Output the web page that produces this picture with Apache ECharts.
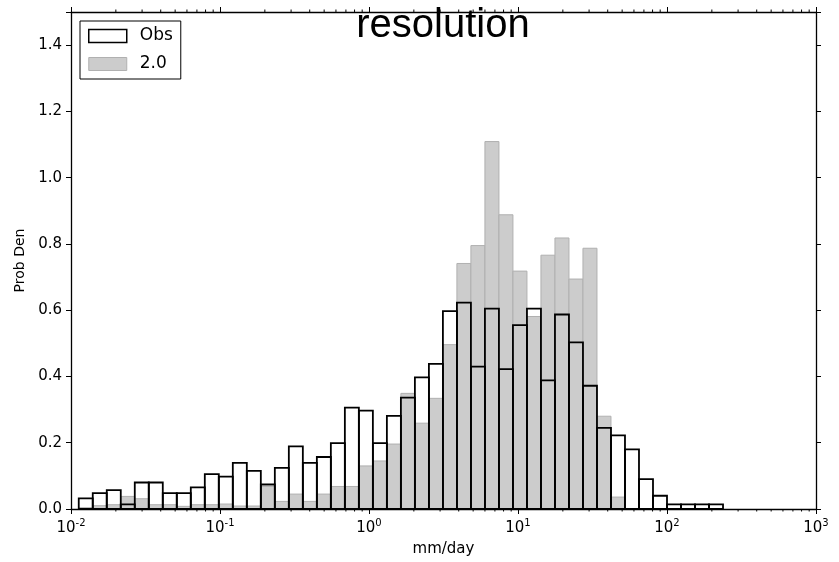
<!DOCTYPE html>
<html>
<head>
<meta charset="utf-8">
<script src="https://cdn.jsdelivr.net/npm/echarts@6/dist/echarts.min.js"></script>
<style>
html,body{margin:0;padding:0;background:#fff;}
#c{width:839px;height:562px;}
</style>
</head>
<body>
<div id="c"></div>
<script>
// Histogram bins: log-spaced, 46 bins (log10 of first edge and log10 bin width)
const binStartLog = -1.948;
const binWidthLog = 0.094;
const binCount = 46;

// Probability density, observations (hollow black bars)
const obsValues = [
  0.032, 0.048, 0.057, 0.014, 0.080, 0.080, 0.048, 0.048, 0.065, 0.105,
  0.098, 0.139, 0.115, 0.074, 0.124, 0.189, 0.139, 0.157, 0.199, 0.306,
  0.297, 0.199, 0.281, 0.336, 0.397, 0.438, 0.597, 0.623, 0.430, 0.605,
  0.422, 0.555, 0.605, 0.388, 0.587, 0.503, 0.372, 0.245, 0.222, 0.180,
  0.090, 0.040, 0.014, 0.014, 0.014, 0.014
];
// Probability density, "2.0" (grey filled bars)
const modelValues = [
  0.004, 0.010, 0.013, 0.038, 0.031, 0.013, 0.013, 0.008, 0.013, 0.013,
  0.015, 0.009, 0.009, 0.068, 0.023, 0.045, 0.023, 0.045, 0.068, 0.068,
  0.130, 0.145, 0.196, 0.349, 0.259, 0.334, 0.496, 0.741, 0.795, 1.109,
  0.888, 0.718, 0.581, 0.766, 0.818, 0.694, 0.787, 0.280, 0.036, 0,
  0, 0, 0, 0, 0, 0
];
const seriesNames = ['Obs', '2.0'];
const titleText = 'resolution';
const xTitle = 'mm/day';
const yTitle = 'Prob Den';
const xMin = 0.01, xMax = 1000;
const yMin = 0, yMax = 1.5, yStep = 0.2;
const minorMultipliers = [2, 3, 4, 5, 6, 7, 8, 9];
const minorDecades = [-2, -1, 0, 1, 2];

const edges = [];
for (let k = 0; k <= binCount; k++) edges.push(Math.pow(10, binStartLog + k * binWidthLog));
const obsData = obsValues.map((v, i) => [edges[i], edges[i + 1], v]);
const modelData = modelValues.map((v, i) => [edges[i], edges[i + 1], v]);
const minorTicks = [];
minorDecades.forEach(d => minorMultipliers.forEach(m => minorTicks.push([m * Math.pow(10, d)])));

const FONT = 'DejaVu Sans';

function barRenderer(fill, stroke, lw) {
  return function (params, api) {
    const v = api.value(2);
    if (!v) return null;
    const p0 = api.coord([api.value(0), v]);
    const p1 = api.coord([api.value(1), 0]);
    return {
      type: 'rect',
      shape: { x: p0[0], y: p0[1], width: p1[0] - p0[0], height: p1[1] - p0[1] },
      style: { fill: fill, stroke: stroke, lineWidth: lw }
    };
  };
}

function minorRenderer(params, api) {
  const v = api.value(0);
  const b = api.coord([v, yMin]);
  const t = api.coord([v, yMax]);
  return {
    type: 'group',
    children: [
      { type: 'line', shape: { x1: b[0], y1: b[1], x2: b[0], y2: b[1] + 2.5 }, style: { stroke: '#000', lineWidth: 1 } },
      { type: 'line', shape: { x1: t[0], y1: t[1], x2: t[0], y2: t[1] - 2.5 }, style: { stroke: '#000', lineWidth: 1 } }
    ]
  };
}

const chart = echarts.init(document.getElementById('c'), null, { renderer: 'canvas' });

const axisLineStyle = { color: '#000', width: 1.3 };
const tickStyle = { color: '#000', width: 1 };

chart.setOption({
  backgroundColor: '#fff',
  animation: false,
  grid: { left: 71, right: 23, top: 12, bottom: 51.5, containLabel: false },
  graphic: [{
    type: 'text', z: 100,
    x: 443, y: 26,
    style: {
      text: titleText, textAlign: 'center', textVerticalAlign: 'middle',
      fontFamily: 'Liberation Sans', fontSize: 40, fill: '#000'
    }
  }],
  legend: {
    left: 80, top: 21, orient: 'vertical',
    padding: [5, 8, 5, 8], itemGap: 8,
    itemWidth: 38, itemHeight: 13,
    borderColor: '#000', borderWidth: 1, borderRadius: 0,
    backgroundColor: '#fff',
    textStyle: { fontFamily: FONT, fontSize: 17, color: '#000', lineHeight: 20, padding: [0, 0, 0, 8] },
    data: [
      { name: seriesNames[0], icon: 'rect', itemStyle: { color: '#fff', borderColor: '#000', borderWidth: 1.5 } },
      { name: seriesNames[1], icon: 'rect', itemStyle: { color: '#cccccc', borderColor: '#b0b0b0', borderWidth: 1 } }
    ],
    selectedMode: false
  },
  xAxis: [
    {
      type: 'log', logBase: 10, min: xMin, max: xMax, position: 'bottom',
      name: xTitle, nameLocation: 'middle', nameGap: 33,
      nameTextStyle: { fontFamily: FONT, fontSize: 15, color: '#000' },
      axisLine: { show: true, onZero: false, lineStyle: axisLineStyle },
      axisTick: { show: true, inside: false, length: 5, lineStyle: tickStyle },
      splitLine: { show: false },
      axisLabel: {
        margin: 9,
        formatter: function (v) {
          const e = Math.round(Math.log10(v));
          return '{b|10}{s|' + e + '}';
        },
        rich: {
          b: { fontFamily: FONT, fontSize: 15, color: '#000', lineHeight: 15, padding: [6, 0, 0, 0] },
          s: { fontFamily: FONT, fontSize: 10, color: '#000', lineHeight: 10, verticalAlign: 'top' }
        }
      }
    },
    {
      type: 'log', logBase: 10, min: xMin, max: xMax, position: 'top',
      axisLine: { show: true, onZero: false, lineStyle: axisLineStyle },
      axisTick: { show: true, inside: false, length: 5, lineStyle: tickStyle },
      axisLabel: { show: false }, splitLine: { show: false }
    }
  ],
  yAxis: [
    {
      type: 'value', min: yMin, max: yMax, interval: yStep, position: 'left',
      name: yTitle, nameLocation: 'middle', nameGap: 42,
      nameTextStyle: { fontFamily: FONT, fontSize: 14, color: '#000' },
      axisLine: { show: true, onZero: false, lineStyle: axisLineStyle },
      axisTick: { show: true, inside: false, length: 5, lineStyle: tickStyle },
      splitLine: { show: false },
      axisLabel: {
        margin: 9, fontFamily: FONT, fontSize: 15, color: '#000',
        formatter: v => (v > 1.45 ? '' : v.toFixed(1))
      }
    },
    {
      type: 'value', min: yMin, max: yMax, interval: yStep, position: 'right',
      axisLine: { show: true, onZero: false, lineStyle: axisLineStyle },
      axisTick: { show: true, inside: false, length: 5, lineStyle: tickStyle },
      axisLabel: { show: false }, splitLine: { show: false }
    }
  ],
  series: [
    {
      name: seriesNames[1], type: 'custom', xAxisIndex: 0, yAxisIndex: 0,
      renderItem: barRenderer('#cccccc', '#b0b0b0', 1),
      encode: { x: [0, 1], y: 2 }, data: modelData, z: 2, silent: true
    },
    {
      name: seriesNames[0], type: 'custom', xAxisIndex: 0, yAxisIndex: 0,
      renderItem: barRenderer('none', '#000', 1.8),
      encode: { x: [0, 1], y: 2 }, data: obsData, z: 3, silent: true
    },
    {
      type: 'custom', xAxisIndex: 0, yAxisIndex: 0,
      renderItem: minorRenderer, encode: { x: 0 }, data: minorTicks, z: 4, silent: true, clip: false
    }
  ]
});
</script>
</body>
</html>
